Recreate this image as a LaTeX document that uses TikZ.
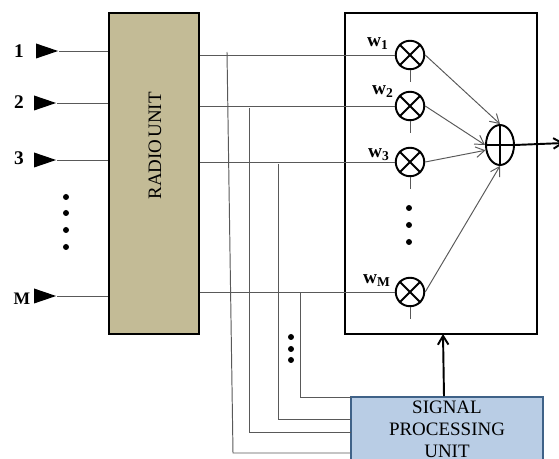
\documentclass[tikz,border=0pt]{standalone}
\usepackage{fontspec}
\setmainfont{Liberation Serif}
\usetikzlibrary{shapes.geometric, arrows.meta}
\definecolor{radiofill}{HTML}{C3BB96}
\definecolor{spufill}{HTML}{B9CDE5}
\definecolor{spuedge}{HTML}{3F6288}
\tikzset{
    wire/.style={draw=black!65, line width=0.55pt},
    tipwire/.style={wire, -{Straight Barb[length=5pt,width=6pt]}},
    antenna/.style={isosceles triangle, isosceles triangle stretches, fill=black, inner sep=0pt,
        minimum width=0.3cm, minimum height=0.44cm, anchor=apex},
    mult/.style={circle, draw, line width=1.1pt, inner sep=0pt, minimum size=0.57cm},
    dotmark/.style={circle, fill=black, inner sep=0pt, minimum size=0.12cm},
    numlabel/.style={font=\bfseries\fontsize{11}{13}\selectfont},
    wlabel/.style={font=\bfseries\fontsize{11}{13}\selectfont, inner sep=0pt}
}

\begin{document}
\begin{tikzpicture}[x=0.02cm,y=-0.02cm]
        \useasboundingbox (0,0) rectangle (559,459);
        \clip (0,0) rectangle (559,459);
        % boxes
        \node (radio) at (154,173.5) [draw, line width=1.1pt, fill=radiofill, inner sep=0pt, minimum width=1.8cm, minimum height=6.42cm] {};
        \node (radiotext) at (155,146) [rotate=90, inner sep=0pt, font=\fontsize{10.8}{12}\selectfont] {RADIO\hspace{0.1em}UNIT};
        \node (comb) at (441,173.5) [draw, line width=1.3pt, inner sep=0pt, minimum width=3.84cm, minimum height=6.42cm] {};
        \node (spu) at (447,429) [draw=spuedge, line width=1.1pt, fill=spufill, inner sep=0pt, minimum width=3.84cm, minimum height=1.28cm,
            align=center, font=\fontsize{10.8}{12.5}\selectfont] {SIGNAL\\PROCESSING\\UNIT};
        % antennas
        \foreach \i/\x/\y in {1/59/51,2/57/103,3/57/160,M/57/296} {
            \node (in\i) at (\x,\y) [antenna] {};
            \draw[wire] (in\i.apex) -- (in\i.apex -| radio.west);
        }
        \node (num1) at (19,51) [numlabel] {1};
        \node (num2) at (19,102) [numlabel] {2};
        \node (num3) at (19,158) [numlabel] {3};
        \node (numM) at (22,299) [numlabel, font=\bfseries\fontsize{10}{12}\selectfont] {M};
        % multipliers
        \foreach \i/\y in {1/55,2/106,3/162,M/292} {
            \node (mul\i) at (410,\y) [mult] {};
            \draw[line width=1.1pt] (mul\i.45) -- (mul\i.225);
            \draw[line width=1.1pt] (mul\i.135) -- (mul\i.315);
            \draw[wire] (radio.east |- mul\i.west) -- (mul\i.west);
            \coordinate (stub\i) at ([yshift=-0.24cm]mul\i.south);
            \draw[wire] (mul\i.south) -- (stub\i);
        }
        \node (wa) at (378,44) [wlabel] {w$_{\mathbf{1}}$};
        \node (wb) at (383,92) [wlabel] {w$_{\mathbf{2}}$};
        \node (wc) at (379,155) [wlabel] {w$_{\mathbf{3}}$};
        \node (wm) at (377,281) [wlabel] {w$_{\mathbf{M}}$};
        % adder
        \node (sum) at (500,145) [ellipse, draw, line width=1.1pt, inner sep=0pt, minimum width=0.56cm, minimum height=0.8cm] {};
        \draw[line width=1.1pt] (sum.north) -- (sum.south);
        \draw[line width=1.1pt] (sum.west) -- (sum.east);
        \draw[tipwire] (mul1.east) -- (sum.north);
        \draw[tipwire] (mul2.east) -- (sum.west);
        \draw[tipwire] (mul3.east) -- (sum.200);
        \draw[tipwire] (mulM.east) -- (sum.south);
        \coordinate (outend) at (564,143);
        \draw[line width=1.1pt, -{Straight Barb[length=5pt,width=6pt]}] (sum.east) -- (outend);
        % control lines
        \coordinate (taptop) at (227,52);
        \coordinate (tapbend) at (233,453);
        \coordinate (spua) at (spu.west |- tapbend);
        \draw[wire] (taptop) -- (tapbend) -- (spua);
        \coordinate (tapb) at (249,108);
        \coordinate (spub) at (351,432);
        \draw[wire] (tapb) |- (spub);
        \coordinate (tapc) at (278,164);
        \coordinate (spuc) at (351,419);
        \draw[wire] (tapc) |- (spuc);
        \coordinate (tapd) at (300,293);
        \coordinate (spud) at (351,397);
        \draw[wire] (tapd) |- (spud);
        \coordinate (combin) at (443,334);
        \draw[line width=1.1pt, -{Straight Barb[length=5pt,width=6pt]}] (spu.north -| 444,0) -- (combin);
        % dots
        \foreach \n/\y in {a/197,b/213,c/230,d/247} {
            \node (left\n) at (66,\y) [dotmark] {};
        }
        \foreach \n/\y in {a/208,b/225,c/242} {
            \node (mid\n) at (409,\y) [dotmark] {};
        }
        \foreach \n/\y in {a/337,b/349,c/360} {
            \node (low\n) at (291,\y) [dotmark] {};
        }
    \end{tikzpicture}
\end{document}
